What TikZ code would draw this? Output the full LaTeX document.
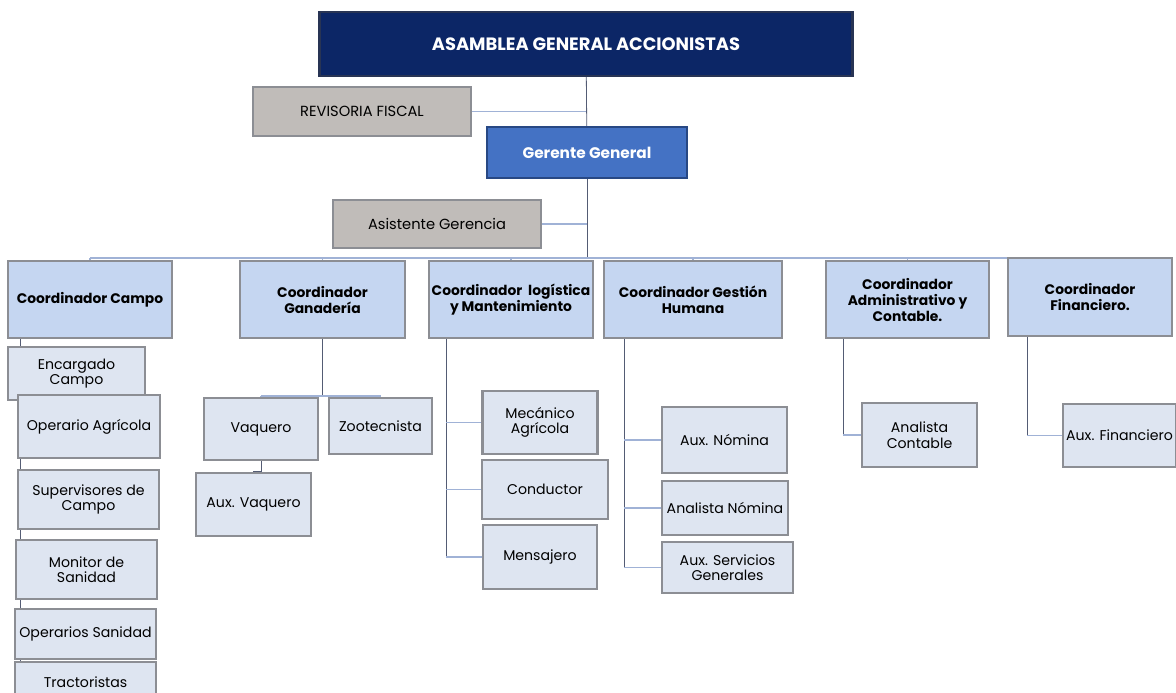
\documentclass[tikz,border=0pt]{standalone}
\usepackage{fontspec}
\setmainfont{Poppins}
\usepackage{tikz}
\usetikzlibrary{backgrounds}

\definecolor{navy}{RGB}{12,38,102}
\definecolor{navyedge}{RGB}{40,52,84}
\definecolor{gerblue}{RGB}{68,114,196}
\definecolor{geredge}{RGB}{40,72,132}
\definecolor{greyfill}{RGB}{192,188,185}
\definecolor{coordfill}{RGB}{197,214,241}
\definecolor{subfill}{RGB}{222,229,241}
\definecolor{bevel}{RGB}{140,142,148}
\definecolor{darkline}{RGB}{84,92,116}
\definecolor{lightline}{RGB}{160,178,214}

\begin{document}
\begin{tikzpicture}[x=0.75pt, y=-0.75pt,
  every node/.style={font=\fontsize{10.6}{11.6}\selectfont},
  box/.style={draw=bevel, line width=1.6pt, inner sep=1pt, outer sep=0pt, align=center},
  sz/.style 2 args={minimum width=#1*0.75pt, minimum height=#2*0.75pt},
  top/.style={box, fill=navy, draw=navyedge, text=white, font=\bfseries\fontsize{13.4}{15}\selectfont},
  gerente/.style={box, fill=gerblue, draw=geredge, text=white, font=\bfseries\fontsize{11.5}{13}\selectfont},
  staff/.style={box, fill=greyfill, font=\fontsize{11}{12}\selectfont},
  coord/.style={box, fill=coordfill, font=\bfseries\fontsize{10.4}{12}\selectfont},
  sub/.style={box, fill=subfill},
  conn/.style={darkline, line width=0.6pt},
  connl/.style={lightline, line width=0.8pt}]
  \useasboundingbox (0,0) rectangle (1176,692);

  % Direccion
  \node[top, sz={533}{64}] (asamblea) at (586,44) {ASAMBLEA GENERAL ACCIONISTAS};
  \node[staff, sz={218}{49}] (revisoria) at (362,111.5) {REVISORIA FISCAL};
  \node[gerente, sz={200}{51}] (gerente) at (587,152.5) {Gerente General};
  \node[staff, sz={208}{48}] (asistente) at (437,224) {Asistente Gerencia};

  % Coordinadores
  \node[coord, sz={164}{77}] (campo) at (90,299.5) {Coordinador Campo};
  \node[coord, sz={165}{77}] (ganaderia) at (322.5,299.5) {Coordinador\\Ganadería};
  \node[coord, sz={164}{77}] (logistica) at (511,299.5) {Coordinador~ logística\\y Mantenimiento};
  \node[coord, sz={178}{77}] (humana) at (693,299.5) {Coordinador Gestión\\Humana};
  \node[coord, sz={163}{77}] (admin) at (907.5,299.5) {Coordinador\\Administrativo y\\Contable.};
  \node[coord, sz={164}{78}] (finan) at (1090,297) {Coordinador\\Financiero.};

  % Campo
  \node[sub, sz={137}{53}] (encargado) at (76.5,373.5) {Encargado\\Campo};
  \node[sub, sz={142}{63}] (operario) at (89,426.5) {Operario Agrícola};
  \node[sub, sz={141}{59}] (supervisores) at (88.5,499.5) {Supervisores de\\Campo};
  \node[sub, sz={141}{59}] (monitor) at (86.5,569.5) {Monitor de\\Sanidad};
  \node[sub, sz={141}{50}] (opsanidad) at (85.5,634) {Operarios Sanidad};
  \node[sub, sz={141}{40}, anchor=north] (tractoristas) at (85.5,662) {Tractoristas};

  % Ganaderia
  \node[sub, sz={114}{62}] (vaquero) at (261,429) {Vaquero};
  \node[sub, sz={103}{56}] (zootecnista) at (380.5,426) {Zootecnista};
  \node[sub, sz={115}{63}] (auxvaquero) at (253.5,504.5) {Aux. Vaquero};

  % Logistica
  \node[sub, sz={115}{63}] (mecanico) at (540,422.5) {Mecánico\\Agrícola};
  \node[sub, sz={126}{59}] (conductor) at (545,489.5) {Conductor};
  \node[sub, sz={114}{64}] (mensajero) at (540,557) {Mensajero};

  % Gestion humana
  \node[sub, sz={125}{66}] (auxnomina) at (724.5,440) {Aux. Nómina};
  \node[sub, sz={126}{54}] (analnomina) at (725,508) {Analista Nómina};
  \node[sub, sz={131}{51}] (auxservicios) at (727.5,567.5) {Aux. Servicios\\Generales};

  % Administrativo y financiero
  \node[sub, sz={115}{64}] (analcontable) at (919.5,435) {Analista\\Contable};
  \node[sub, sz={113}{63}] (auxfinan) at (1119.5,435.5) {Aux. Financiero};

  % Conectores
  \begin{scope}[on background layer]
    \coordinate (bus) at (0,258);
    \draw[conn] (asamblea) -- (gerente);
    \draw[connl] (revisoria.east) -- (revisoria.east -| asamblea.south);
    \draw[conn] (gerente.south) -- (gerente.south |- bus);
    \draw[connl] (asistente.east) -- (asistente.east -| gerente.south);
    \draw[connl] (campo.north |- bus) -- (finan.north |- bus);
    \foreach \c in {campo,ganaderia,logistica,humana,admin,finan}
      \draw[connl] (\c.north) -- (\c.north |- bus);
    % campo
    \coordinate (cx) at (20,0);
    \draw[conn] (cx |- campo.south) -- (cx |- tractoristas.north);
    % ganaderia
    \coordinate (gy) at (0,396);
    \draw[conn] (ganaderia.south) -- (ganaderia.south |- gy);
    \draw[connl] (vaquero.north |- gy) -- (zootecnista.north |- gy);
    \draw[connl] (vaquero.north |- gy) -- (vaquero.north);
    \draw[connl] (zootecnista.north |- gy) -- (zootecnista.north);
    \draw[conn] (vaquero.south) -- ++(0,11) -| (auxvaquero.north);
    % logistica
    \coordinate (lx) at (446,0);
    \draw[conn] (lx |- logistica.south) -- (lx |- mensajero.west);
    \foreach \s in {mecanico,conductor,mensajero}
      \draw[connl] (lx |- \s.west) -- (\s.west);
    % gestion humana
    \coordinate (hx) at (624,0);
    \draw[conn] (hx |- humana.south) -- (hx |- auxservicios.west);
    \foreach \s in {auxnomina,analnomina,auxservicios}
      \draw[connl] (hx |- \s.west) -- (\s.west);
    % administrativo
    \draw[conn] (843,0 |- admin.south) -- (843,0 |- analcontable.west);
    \draw[connl] (843,0 |- analcontable.west) -- (analcontable.west);
    % financiero
    \draw[conn] (1027,0 |- finan.south) -- (1027,0 |- auxfinan.west);
    \draw[connl] (1027,0 |- auxfinan.west) -- (auxfinan.west);
  \end{scope}
\end{tikzpicture}
\end{document}
